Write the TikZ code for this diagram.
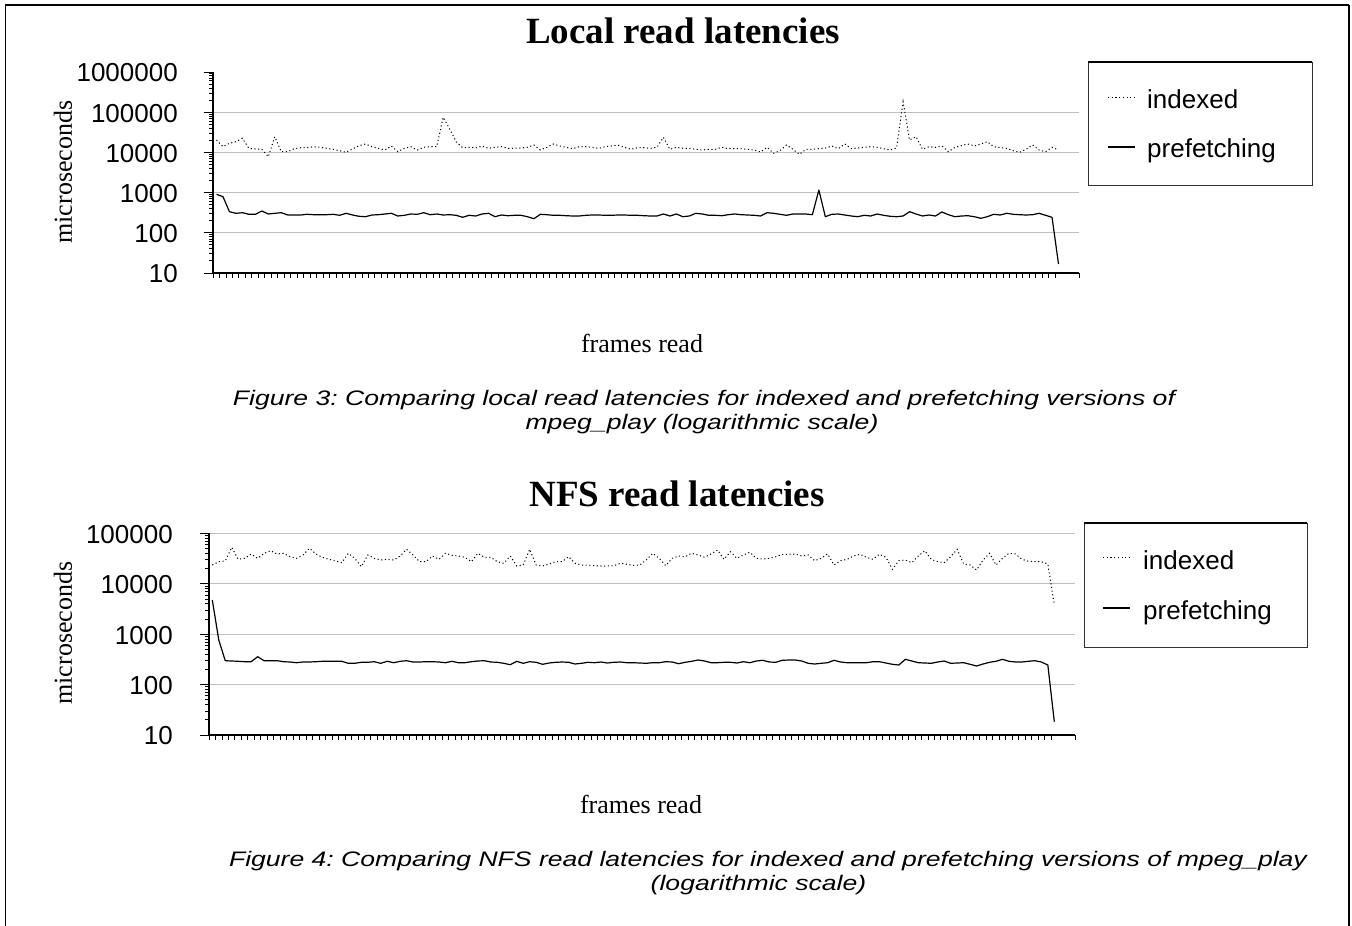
\documentclass[tikz,border=0pt]{standalone}
\usepackage{fontspec}
\setmainfont{Liberation Serif}
\newfontfamily\arial{Liberation Sans}
\frenchspacing
\newcommand\series[4]{\draw[#1] (#2,#3) \foreach \yv [count=\i] in {#4} {-- ({#2+\i*6.477},\yv)};}
\newcommand\wide[1]{\scalebox{1.265}[1]{#1}}
\tikzset{
 axisline/.style={line width=1.3pt, black},
 gridline/.style={line width=1.1pt, black!25},
 ticmark/.style={line width=0.9pt, black},
 idx/.style={line width=1pt, dash pattern=on 1.1pt off 2.6pt},
 pre/.style={line width=1.2pt, line join=round},
 ttl/.style={inner sep=0pt, font={\fontsize{37}{40}\selectfont\bfseries}},
 serlab/.style={inner sep=0pt, font={\fontsize{26}{30}\selectfont}},
 numlab/.style={inner sep=0pt, anchor=east, font={\arial\fontsize{26}{30}\selectfont}},
 leglab/.style={inner sep=0pt, anchor=west, font={\arial\fontsize{26}{30}\selectfont}},
 captxt/.style={inner sep=0pt, anchor=base, font={\arial\itshape\fontsize{21}{25}\selectfont}},
 legbox/.style={line width=1pt, black!80},
}
\begin{document}
\begin{tikzpicture}[x=1pt, y=-1pt]
\useasboundingbox (0,0) rectangle (1352,926);
% frame
\draw[line width=1.5pt] (5.5,926) -- (5.5,5) -- (1349,5);
\draw[line width=2.2pt] (1349,5) -- (1349,926);

% ================= Chart 1 =================
\node[ttl] (t1) at (683,31) {Local read latencies};
\foreach \yy in {112.2,152.4,192.6,232.8} \draw[gridline] (213,\yy) -- (1079,\yy);
\foreach \d in {0,...,4} \foreach \m in {2,...,9} \draw[ticmark] (213,{273-40.2*(\d+log10(\m))}) -- ++(-4,0);
\foreach \d in {0,...,5} \draw[ticmark] (213,{273-40.2*\d}) -- ++(-9,0);
\foreach \k in {0,...,130} \draw[ticmark] ({213+\k*6.477},273) -- ++(0,5);
\draw[ticmark] (1079,273) -- ++(0,5);
\draw[axisline] (213,72) -- (213,273) -- (1079,273);
\foreach \lab [count=\d from 0] in {10,100,1000,10000,100000,1000000}
  \node[numlab] (c1n\d) at (178,{274-40.2*\d}) {\lab};
\node[serlab, rotate=90] (c1y) at (63,172) {microseconds};
\node[serlab] (c1x) at (642,343) {frames read};
\series{idx}{216.5}{140}{146.7,143.3,141.7,138.3,148.3,149,149.3,156.7,136.7,151.7,151.7,148.7,147.7,147.7,146.7,147.3,148.3,149.3,150.7,152.3,149,145.7,144,146.7,148.3,150,146,151.7,148.3,146.7,150,147.3,146.7,146.7,117.3,129,141.7,147.7,147.3,148,146,148.3,147.3,146.7,148.3,148.3,148,147.3,145,150,147.3,144,146,147.3,148.7,146.7,146.7,147.3,148.3,146.7,146,145.3,147.3,149.3,147.7,147.7,148.3,147.3,137.3,149.3,147.3,148.3,148.3,149.3,150,149.3,149.3,147.3,148.7,148.7,148.7,149.3,150,152,147.3,153.3,150.7,145,149.3,154.3,149.3,149.3,148.7,148,146,148.7,144,148.7,148,147.3,146.7,147.3,148.7,150,148,101.7,140,136.7,149.3,146.7,147.3,146,151.7,147.3,145.7,144,146,144,141.7,146.7,147.7,148.3,150.7,152.3,149.3,145,150,151.7,147.3,150}
\series{pre}{216.5}{194.3}{196.7,211.7,213.3,212.7,214.3,214.3,211,214,213.3,212.7,215,215,215,214.3,214.7,214.7,214.7,214.3,215.3,213.3,215,216.3,216.7,215,214.7,214,213.3,216,215.3,214,214.3,212.7,214.7,214,215,214.7,215.3,217.3,215.3,216,214,213.3,216.7,215,215.7,215.3,215.3,216.7,218.7,214.3,214.7,215.3,215.3,215.7,216,216,215.3,215,215,215.3,215.3,215,215,215.3,215.3,215.7,216,216,214,216,214,216.7,216,213.3,214,215.3,215.3,215.7,214.7,214,214.7,215,215.3,216,212.7,213.3,214.3,215.3,214,214,214,214.7,190,216.7,214.3,214,215,216,216.7,215.3,216,214,215.3,216.3,216.7,216,211.7,214,216,215,216,212,214.7,216.7,216,215.7,216.7,218.3,216.7,214.3,215,213.3,214.3,214.7,215,214.7,213.3,215.3,217.3,264}
% legend 1
\draw[legbox] (1088,62) rectangle (1312,185);
\draw[line width=2pt] (1088,62) -- (1312,62);
\draw[idx] (1108,97) -- (1134,97);
\draw[pre] (1108,147) -- (1135,147);
\node[leglab] (l1a) at (1147,99) {indexed};
\node[leglab] (l1b) at (1147,151) {prefetching};
% caption 1
\node[captxt] (cap1a) at (704,405) {\wide{Figure 3: Comparing local read latencies for indexed and prefetching versions of}};
\node[captxt] (cap1b) at (702,429) {\wide{mpeg\_play (logarithmic scale)}};

% ================= Chart 2 =================
\node[ttl] (t2) at (677,494) {NFS read latencies};
\foreach \yy in {533.4,583.8,634.2,684.6} \draw[gridline] (209,\yy) -- (1075,\yy);
\foreach \d in {0,...,3} \foreach \m in {2,...,9} \draw[ticmark] (209,{735-50.4*(\d+log10(\m))}) -- ++(-4,0);
\foreach \d in {0,...,4} \draw[ticmark] (209,{735-50.4*\d}) -- ++(-9,0);
\foreach \k in {0,...,130} \draw[ticmark] ({209+\k*6.477},735) -- ++(0,5);
\draw[ticmark] (1075,735) -- ++(0,5);
\draw[axisline] (209,533.4) -- (209,735) -- (1075,735);
\foreach \lab [count=\d from 0] in {10,100,1000,10000,100000}
  \node[numlab] (c2n\d) at (173,{736-50.4*\d}) {\lab};
\node[serlab, rotate=90] (c2y) at (63,633) {microseconds};
\node[serlab] (c2x) at (641,804) {frames read};
\series{idx}{212.3}{565}{561.7,561,547.3,559.3,558.3,554,558.3,553.3,550.7,554,553.3,556.7,558.3,555,548.3,554,557.3,559.3,560.7,562.7,553.3,558.3,566.7,555,558.3,560,559.3,560,556,549.3,555,561.7,561.7,556,559.3,553.3,555.3,556,557.3,561.7,553.3,557.3,557.3,561.7,563.3,556,566,565,549.3,565,566,564,561.7,561.7,556.7,563.3,565,565.3,565.7,566,566,565.7,563.3,564.3,565.3,565,560,553.3,558.3,565.7,558.3,556,556.7,553.3,555,557.3,554,550,559.3,551.7,558.3,555,552.3,558.3,559,558.3,556.7,554.3,554.3,554,556,555,560.7,558.3,554,565,560.7,559.3,556,554.3,557.3,559.3,554.3,557.3,569.3,560.7,560,562.7,556,550.7,559.3,561.7,562.7,556.7,549.3,564,565,570,560,553.3,565,558.3,553.3,554,559.3,561.3,561.7,561.7,564,605}
\series{pre}{212.3}{600}{640,660.7,661,661.3,661.7,661.7,656.7,660.7,660.7,660.7,661.7,662,662.7,662,662,661.7,661.3,661.3,661.3,661.3,663.3,663.3,662.3,662.3,661.7,663.3,661.3,662.7,661.3,660.7,662,662,661.7,661.7,662,662.7,661.3,662.7,662.7,661.7,661,660.7,662,662.3,663.3,664.7,661.3,663.3,661.7,662.3,664.3,663,662.3,662,662.3,664,663.3,662.3,662.7,662,663,662.3,662,662.7,662.7,663,663.3,662.7,662.7,661.7,662,663.7,662.3,661.3,660,661,662.7,662.7,662.3,662.3,663,661.7,662.7,661,660.3,662,662.3,660.3,660,660,661,663.3,664,663.3,662.7,660.3,662,662.7,662.7,662.7,662.7,661.7,661.7,663,664.3,665,659.3,661,662.7,663,663.3,662,661,663.3,663,662.7,664.3,666,664,662.3,661.3,659.3,661.3,662,662,661.3,660.7,662,665,721.7}
% legend 2
\draw[legbox] (1084,523) rectangle (1307,647);
\draw[line width=2pt] (1084,523) -- (1307,523);
\draw[idx] (1103,557) -- (1129,557);
\draw[pre] (1103,608) -- (1130,608);
\node[leglab] (l2a) at (1143,560) {indexed};
\node[leglab] (l2b) at (1143,613) {prefetching};
% caption 2
\node[captxt] (cap2a) at (768,866) {\wide{Figure 4: Comparing NFS read latencies for indexed and prefetching versions of mpeg\_play}};
\node[captxt] (cap2b) at (758.5,890) {\wide{(logarithmic scale)}};
\end{tikzpicture}
\end{document}
